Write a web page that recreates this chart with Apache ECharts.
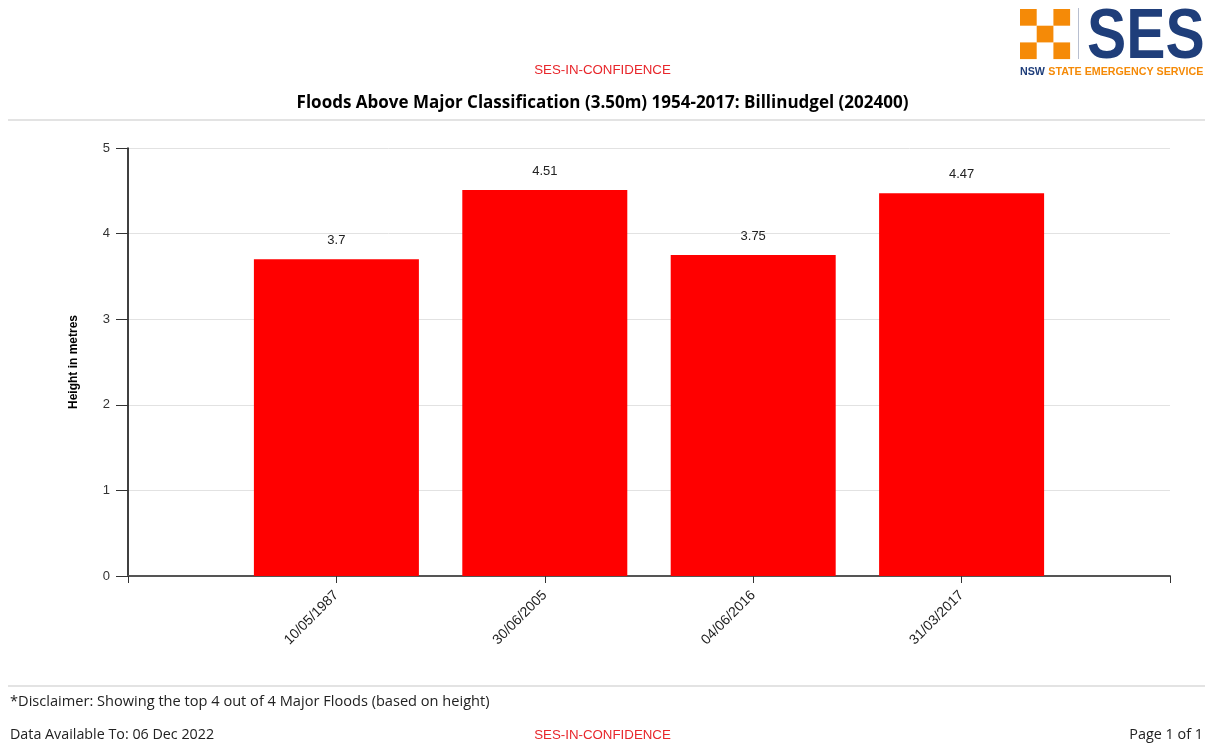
<!DOCTYPE html>
<html>
<head>
<meta charset="utf-8">
<script src="https://cdn.jsdelivr.net/npm/echarts@6/dist/echarts.min.js"></script>
<style>
html,body{margin:0;padding:0;background:#fff;}
#chart{width:1205px;height:744px;}
</style>
</head>
<body>
<div id="chart"></div>
<script>
const categories = ['10/05/1987', '30/06/2005', '04/06/2016', '31/03/2017'];
const heights = [3.7, 4.51, 3.75, 4.47];
const yTicks = [0, 1, 2, 3, 4, 5];
const titleText = 'Floods Above Major Classification (3.50m) 1954-2017: Billinudgel (202400)';
const disclaimerText = '*Disclaimer: Showing the top 4 out of 4 Major Floods (based on height)';
const dataAvailText = 'Data Available To: 06 Dec 2022';
const confText = 'SES-IN-CONFIDENCE';
const pageText = 'Page 1 of 1';

const FONT = "'Liberation Sans', Arial, sans-serif";
const OFONT = "'Open Sans', 'Liberation Sans', sans-serif";
const ORANGE = '#f58a07';
const BLUE = '#1f3e7a';
const RED = '#e8262b';

// pad the axis with an empty slot on each side
const axisCats = [''].concat(categories, ['']);
const axisData = [null].concat(heights, [null]);

const chart = echarts.init(document.getElementById('chart'), null, {renderer: 'canvas'});

const logoSquares = [[0,0],[2,0],[1,1],[0,2],[2,2]].map(function(p){
  return {type:'rect', shape:{x:1020 + p[0]*16.7, y:9 + p[1]*16.7, width:16.7, height:16.7}, style:{fill:ORANGE}, silent:true};
});

chart.setOption({
  animation: false,
  backgroundColor: '#fff',
  textStyle: {fontFamily: FONT},
  grid: {left: 128, right: 35, top: 148, bottom: 168, containLabel: false},
  xAxis: {
    type: 'category',
    data: axisCats,
    boundaryGap: false,
    axisLine: {lineStyle: {color: '#555', width: 2}},
    axisTick: {show: true, length: 7, lineStyle: {color: '#333'}},
    axisLabel: {rotate: 45, color: '#222', fontSize: 14, margin: 17, fontFamily: FONT, interval: 0},
    splitLine: {show: false}
  },
  yAxis: {
    type: 'value',
    min: yTicks[0],
    max: yTicks[yTicks.length - 1],
    interval: 1,
    name: 'Height in metres',
    nameLocation: 'middle',
    nameRotate: 90,
    nameGap: 48,
    nameTextStyle: {fontWeight: 'bold', fontSize: 12, color: '#000', fontFamily: FONT},
    axisLine: {show: true, lineStyle: {color: '#000', width: 1.5}},
    axisTick: {show: true, length: 12, lineStyle: {color: '#333'}},
    axisLabel: {color: '#333', fontSize: 13, margin: 18, fontFamily: FONT},
    splitLine: {show: true, lineStyle: {color: '#e2e2e2', width: 1}}
  },
  series: [{
    type: 'bar',
    data: axisData,
    barWidth: 165,
    itemStyle: {color: '#ff0000'},
    label: {show: true, position: 'top', distance: 12, color: '#222', fontSize: 13, fontFamily: FONT},
    emphasis: {disabled: true}
  }],
  graphic: logoSquares.concat([
    {type:'line', shape:{x1:1078.5, y1:8, x2:1078.5, y2:59}, style:{stroke:'#b8bfd0', lineWidth:1}, silent:true},
    {type:'text', x:1087, y:4, scaleX:0.84, style:{text:'SES', font:"bold 70px 'Liberation Sans', Arial, sans-serif", fill:BLUE, textVerticalAlign:'top'}, silent:true},
    {type:'text', x:1020, y:66, style:{
      text:'{a|NSW} {b|STATE EMERGENCY SERVICE}',
      rich:{a:{fill:BLUE, color:BLUE, font:"bold 10.7px 'Liberation Sans', Arial, sans-serif"}, b:{fill:ORANGE, color:ORANGE, font:"bold 10.7px 'Liberation Sans', Arial, sans-serif"}}
    }, silent:true},
    {type:'text', left:'center', top:64, style:{text:confText, fill:RED, font:"13.3px 'Liberation Sans', Arial, sans-serif"}, silent:true},
    {type:'text', left:'center', top:95, style:{text:titleText, fill:'#000', font:"bold 17px " + OFONT}, silent:true},
    {type:'rect', shape:{x:8, y:119, width:1197, height:2}, style:{fill:'#e3e3e3'}, silent:true},
    {type:'rect', shape:{x:8, y:685, width:1197, height:2}, style:{fill:'#e3e3e3'}, silent:true},
    {type:'text', x:10, y:694, style:{text:disclaimerText, fill:'#222', font:"14.6px " + OFONT}, silent:true},
    {type:'text', x:10, y:728, style:{text:dataAvailText, fill:'#222', font:"14.3px " + OFONT}, silent:true},
    {type:'text', left:'center', top:729, style:{text:confText, fill:RED, font:"13.3px 'Liberation Sans', Arial, sans-serif"}, silent:true},
    {type:'text', right:2, top:728, style:{text:pageText, fill:'#222', font:"14.4px " + OFONT}, silent:true}
  ])
});
</script>
</body>
</html>
